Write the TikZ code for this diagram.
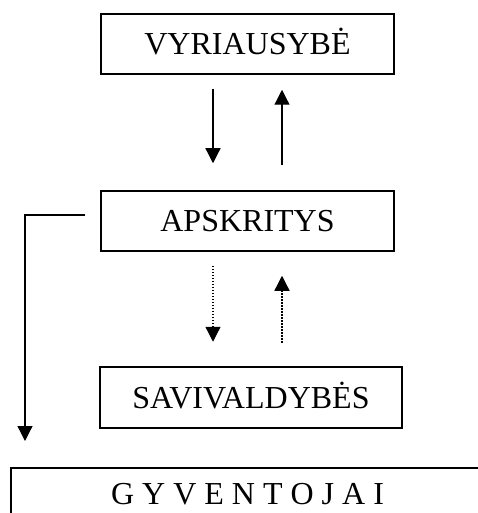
\documentclass[tikz,border=0pt]{standalone}
\usepackage{fontspec}
\setmainfont{Liberation Serif}
\usetikzlibrary{arrows.meta}
\begin{document}
\begin{tikzpicture}[x=1pt,y=-1pt,
  txt/.style={font=\fontsize{32}{36}\selectfont,text height=21pt,text depth=0pt,inner sep=0pt},
  box/.style={txt,draw,line width=1.5pt,rectangle},
  arr/.style={line width=1.2pt,-{Triangle[length=15pt,width=15pt]}},
  dotarr/.style={arr,line width=1.3pt,dash pattern=on 1.5pt off 1.5pt}]
\useasboundingbox (0,0) rectangle (478,513);
\clip (0,0) rectangle (478,513);
\node[box,minimum width=293pt,minimum height=60pt] (v) at (247.5,44) {VYRIAUSYBĖ};
\node[box,minimum width=293pt,minimum height=60pt] (a) at (247.5,221) {APSKRITYS};
\node[box,minimum width=302pt,minimum height=61pt] (s) at (251,397.5) {SAVIVALDYBĖS};
\node[draw,line width=1.5pt,rectangle,minimum width=480pt,minimum height=54pt,anchor=north west,inner sep=0pt] (g) at (10,467) {};
\node[txt] (gt) at (247.5,494) {G Y V E N T O J A I};
% solid arrows
\draw[arr] ([xshift=-34.5pt,yshift=-14pt]v.south) -- ([xshift=-34.5pt,yshift=27pt]a.north);
\draw[arr] ([xshift=34.5pt,yshift=25pt]a.north) -- ([xshift=34.5pt,yshift=-15pt]v.south);
% dotted arrows
\draw[dotarr] ([xshift=-34.5pt,yshift=-14pt]a.south) -- ([xshift=-34.5pt,yshift=-90pt]a.south);
\draw[dotarr] ([xshift=34.5pt,yshift=-91pt]a.south) -- ([xshift=34.5pt,yshift=-24pt]a.south);
% left connector
\draw[arr] ([xshift=-15pt,yshift=6pt]a.west) -| ([xshift=15pt,yshift=26pt]g.north west);
\end{tikzpicture}
\end{document}
